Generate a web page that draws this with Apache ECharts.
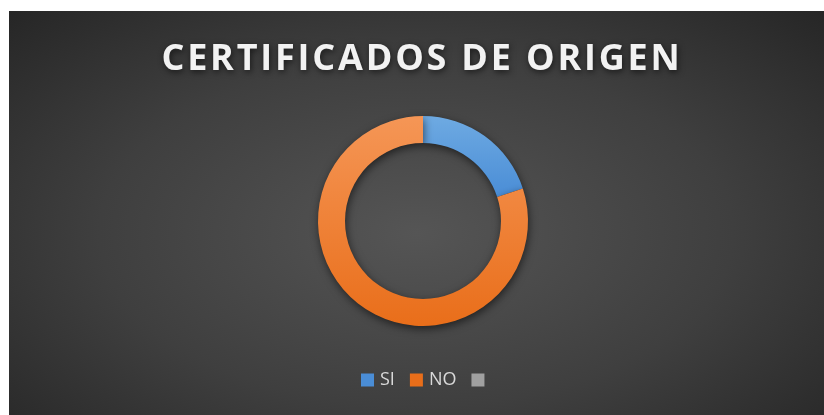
<!DOCTYPE html>
<html>
<head>
<meta charset="utf-8">
<script src="https://cdn.jsdelivr.net/npm/echarts@6/dist/echarts.min.js"></script>
<style>
  html, body { margin: 0; padding: 0; background: #fff; }
  #chart {
    position: absolute; left: 9px; top: 11px;
    width: 815px; height: 404px;
    background: radial-gradient(ellipse farthest-corner at 50% 55%, #555 0%, #3f3f3f 55%, #262626 100%);
  }
</style>
</head>
<body>
<div id="chart"></div>
<script>
// datos del gráfico
var titulo = 'CERTIFICADOS DE ORIGEN'
var categorias = ['SI', 'NO', ' ']
var valores = [20, 80, 0]

var colores = [
  ['#6eaae2', '#4a8dd6'],
  ['#f59656', '#e96e1a'],
  ['#a8a8a8', '#a0a0a0']
]

var datosPie = categorias.map(function (nombre, i) {
  return {
    name: nombre,
    value: valores[i],
    itemStyle: {
      color: {
        type: 'linear', x: 0, y: 0, x2: 0, y2: 1,
        colorStops: [
          { offset: 0, color: colores[i][0] },
          { offset: 1, color: colores[i][1] }
        ]
      }
    }
  }
})

// espaciado entre letras del título con rich text
var tituloRich = titulo.split('').map(function (c) {
  return '{c|' + c + '}'
}).join('')

var estiloTitulo = {
  color: '#f2f2f2',
  fontFamily: 'Open Sans',
  fontWeight: 'bold',
  fontSize: 36,
  padding: [0, 1.4, 0, 1.4],
  textShadowColor: 'rgba(0,0,0,0.6)',
  textShadowBlur: 6,
  textShadowOffsetX: 1,
  textShadowOffsetY: 2
}

var option = {
  backgroundColor: 'transparent',
  title: {
    text: tituloRich,
    left: 146,
    top: 26,
    textStyle: {
      color: '#f2f2f2',
      fontFamily: 'Open Sans',
      fontWeight: 'bold',
      fontSize: 36,
      rich: { c: estiloTitulo }
    }
  },
  legend: {
    data: categorias.map(function (n, i) {
      return { name: n, itemStyle: { color: colores[i][1] } }
    }),
    bottom: 21,
    left: 347,
    itemWidth: 13,
    itemHeight: 13,
    itemGap: 15,
    icon: 'rect',
    textStyle: {
      color: '#d9d9d9',
      fontFamily: 'Open Sans',
      fontSize: 18,
      padding: [0, 0, 0, 1]
    }
  },
  series: [{
    type: 'pie',
    radius: [78, 105],
    center: [414, 210],
    startAngle: 90,
    clockwise: true,
    label: { show: false },
    labelLine: { show: false },
    emphasis: { disabled: true },
    silent: true,
    itemStyle: {
      shadowColor: 'rgba(0,0,0,0.55)',
      shadowBlur: 8,
      shadowOffsetX: 1,
      shadowOffsetY: 3
    },
    data: datosPie
  }]
}

var myChart = echarts.init(document.getElementById('chart'))
myChart.setOption(option)
</script>
</body>
</html>
